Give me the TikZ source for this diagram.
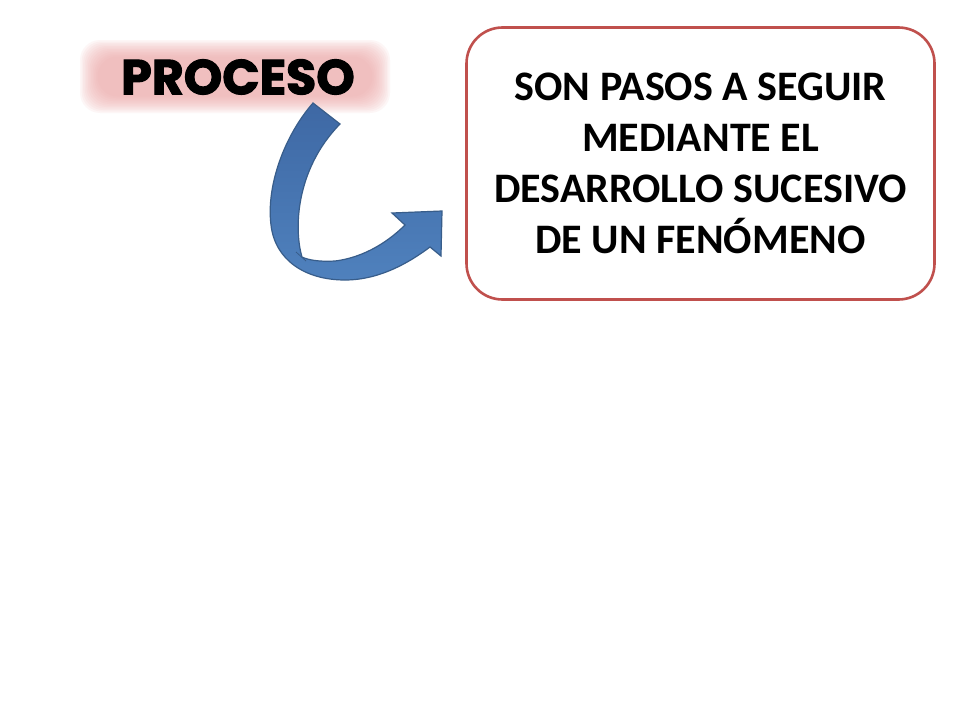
\documentclass[tikz,border=0pt]{standalone}
\usepackage{fontspec}
\setmainfont{Carlito}
\newfontfamily\heavyfont[FakeBold=2.2]{Poppins}
\definecolor{boxred}{RGB}{192,80,77}
\definecolor{glowpink}{RGB}{238,165,165}
\definecolor{arrowfill}{RGB}{79,129,189}
\definecolor{arrowdark}{RGB}{62,104,164}
\definecolor{arrowline}{RGB}{56,93,138}
\tikzset{
  defbox/.style={draw=boxred, line width=2.6pt, rounded corners=36pt, fill=white,
    minimum width=468pt, minimum height=272pt, align=center,
    font=\bfseries\fontsize{42}{51}\selectfont},
  titletext/.style={font=\heavyfont\bfseries\fontsize{49}{52}\selectfont, inner sep=0pt},
  blockarrow/.style={draw=arrowline, line width=1.2pt, top color=arrowdark, bottom color=arrowfill}
}
\begin{document}
\begin{tikzpicture}[x=1pt,y=-1pt]
\useasboundingbox (0,0) rectangle (960,720);
\fill[white] (0,0) rectangle (960,720);
% glow behind PROCESO
\foreach \i in {0,...,11}{
  \fill[glowpink, opacity=0.09, rounded corners=20pt]
    ({80+\i*1.6},{40+\i*1.5}) rectangle ({390-\i*1.6},{113-\i*1.5});
}
\node[titletext] (title) at (238,77) {PROCESO};
% definition box
\node[defbox] (def) at (700.5,163.5) {SON PASOS A SEGUIR\\MEDIANTE EL\\DESARROLLO SUCESIVO\\DE UN FENÓMENO};
% curved block arrow
\coordinate (tailA) at (313,103);
\coordinate (tailB) at (340,124);
\coordinate (notchIn) at (405,225);
\coordinate (barbA) at (392,213);
\coordinate (tip) at (442,211);
\coordinate (barbB) at (441,256);
\coordinate (notchOut) at (430,247);
\path[blockarrow]
  (tailA) .. controls (285,135) and (266,185) .. (271,225)
  .. controls (275,260) and (305,280) .. (345,280)
  .. controls (380,280) and (410,262) .. (notchOut)
  -- (barbB) -- (tip) -- (barbA) -- (notchIn)
  .. controls (385,245) and (360,258) .. (335,261)
  .. controls (320,262) and (308,260) .. (302,257)
  .. controls (294,230) and (295,170) .. (tailB) -- cycle;
\draw[arrowline, line width=0.8pt] (296,252) -- (306,261);
\end{tikzpicture}
\end{document}
